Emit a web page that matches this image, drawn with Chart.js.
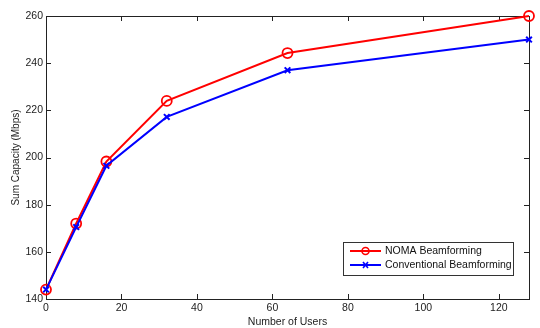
<!DOCTYPE html>
<html>
<head>
<meta charset="utf-8">
<script src="https://cdn.jsdelivr.net/npm/chart.js@4.4.0/dist/chart.umd.min.js"></script>
<style>
  html, body { margin: 0; padding: 0; background: #fff; overflow: hidden; }
  #chart { display: block; }
</style>
</head>
<body>
<canvas id="chart" width="540" height="328"></canvas>
<script>
// --- Data ---
const users = [0, 8, 16, 32, 64, 128];
const nomaCapacity = [144, 172, 198.3, 224, 244.3, 260];
const conventionalCapacity = [144, 170.5, 196.5, 217.2, 237, 250];
const xTicks = [0, 20, 40, 60, 80, 100, 120];
const yTicks = [140, 160, 180, 200, 220, 240, 260];

const FONT = 'Liberation Sans, Arial, sans-serif';

// draws the MATLAB-like box, inward ticks and the legend inside the axes
const matlabFrame = {
    id: 'matlabFrame',
    beforeDatasetsDraw(chart) {
        const { ctx, chartArea: a, scales } = chart;
        ctx.save();
        ctx.strokeStyle = '#222';
        ctx.lineWidth = 1;
        ctx.strokeRect(a.left + 0.5, a.top + 0.5, a.right - a.left, a.bottom - a.top);
        ctx.beginPath();
        xTicks.forEach(v => {
            const x = Math.round(scales.x.getPixelForValue(v)) + 0.5;
            ctx.moveTo(x, a.bottom); ctx.lineTo(x, a.bottom - 5);
            ctx.moveTo(x, a.top); ctx.lineTo(x, a.top + 5);
        });
        yTicks.forEach(v => {
            const y = Math.round(scales.y.getPixelForValue(v)) + 0.5;
            ctx.moveTo(a.left, y); ctx.lineTo(a.left + 5, y);
            ctx.moveTo(a.right, y); ctx.lineTo(a.right - 5, y);
        });
        ctx.stroke();
        ctx.restore();
    },
    afterDraw(chart) {
        const { ctx } = chart;
        ctx.save();
        // legend box
        const bx = 343, by = 242, bw = 170, bh = 33;
        ctx.fillStyle = '#fff';
        ctx.fillRect(bx, by, bw, bh);
        ctx.strokeStyle = '#333';
        ctx.lineWidth = 1;
        ctx.strokeRect(bx + 0.5, by + 0.5, bw, bh);
        ctx.font = '10.5px ' + FONT;
        ctx.textBaseline = 'middle';
        chart.data.datasets.forEach((ds, i) => {
            const y = by + 9 + i * 14;
            ctx.strokeStyle = ds.borderColor;
            ctx.lineWidth = 2;
            ctx.beginPath();
            ctx.moveTo(bx + 7, y); ctx.lineTo(bx + 38, y);
            ctx.stroke();
            ctx.lineWidth = 1.6;
            ctx.beginPath();
            if (ds.pointStyle === 'circle') {
                ctx.arc(bx + 22.5, y, 3.5, 0, Math.PI * 2);
            } else {
                ctx.moveTo(bx + 20, y - 3); ctx.lineTo(bx + 25, y + 3);
                ctx.moveTo(bx + 25, y - 3); ctx.lineTo(bx + 20, y + 3);
            }
            ctx.stroke();
            ctx.fillStyle = '#111';
            ctx.fillText(ds.label, bx + 42, y + 0.5);
        });
        ctx.restore();
    }
};

new Chart(document.getElementById('chart'), {
    type: 'line',
    data: {
        datasets: [
            {
                label: 'NOMA Beamforming',
                data: users.map((u, i) => ({ x: u, y: nomaCapacity[i] })),
                borderColor: '#ff0000',
                backgroundColor: 'rgba(0,0,0,0)',
                borderWidth: 2,
                pointStyle: 'circle',
                pointRadius: 5,
                pointBorderWidth: 1.8,
                pointBackgroundColor: 'rgba(0,0,0,0)',
                pointBorderColor: '#ff0000',
                tension: 0,
                clip: false,
                order: 2
            },
            {
                label: 'Conventional Beamforming',
                data: users.map((u, i) => ({ x: u, y: conventionalCapacity[i] })),
                borderColor: '#0000ff',
                backgroundColor: 'rgba(0,0,0,0)',
                borderWidth: 2,
                pointStyle: 'crossRot',
                pointRadius: 4,
                pointBorderWidth: 2,
                pointBorderColor: '#0000ff',
                tension: 0,
                clip: false,
                order: 1
            }
        ]
    },
    options: {
        responsive: false,
        animation: false,
        devicePixelRatio: 1,
        layout: { padding: { top: 16, right: 11, left: 10, bottom: 0 } },
        plugins: { legend: { display: false }, tooltip: { enabled: false } },
        scales: {
            x: {
                type: 'linear', min: 0, max: 128,
                afterBuildTicks: s => { s.ticks = xTicks.map(v => ({ value: v })); },
                afterFit: s => { s.height = 29; },
                grid: { display: false, drawTicks: false },
                border: { display: false },
                ticks: { color: '#222', font: { family: FONT, size: 10.5 }, padding: 3, maxRotation: 0 },
                title: { display: true, text: 'Number of Users', color: '#222', font: { family: FONT, size: 10.5 }, padding: { top: 0, bottom: 0 } }
            },
            y: {
                min: 140, max: 260,
                afterBuildTicks: s => { s.ticks = yTicks.map(v => ({ value: v })); },
                afterFit: s => { s.width = 36; },
                grid: { display: false, drawTicks: false },
                border: { display: false },
                ticks: { color: '#222', font: { family: FONT, size: 10.5 }, padding: 3 },
                title: { display: true, text: 'Sum Capacity (Mbps)', color: '#222', font: { family: FONT, size: 10 }, padding: { top: 0, bottom: 4 } }
            }
        }
    },
    plugins: [matlabFrame]
});
</script>
</body>
</html>
